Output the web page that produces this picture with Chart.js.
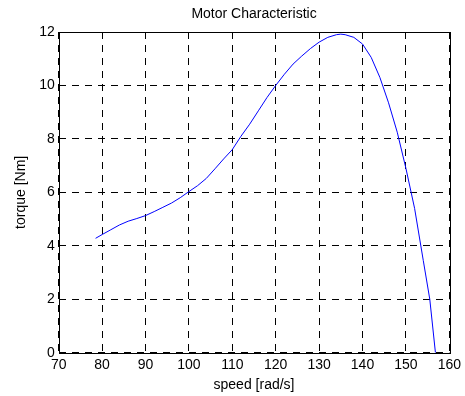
<!DOCTYPE html>
<html>
<head>
<meta charset="utf-8">
<script src="https://cdn.jsdelivr.net/npm/chart.js@4"></script>
<style>
  html, body { margin: 0; padding: 0; background: #fff; }
  canvas { display: block; }
</style>
</head>
<body>
<canvas id="motorChart" width="465" height="396"></canvas>
<script>
// Motor torque vs speed
const speed = [78.5, 80, 82, 84, 86, 88, 90, 92, 94, 96, 98, 100, 102, 104, 106, 108, 110,
    112, 114, 116, 118, 120, 122, 124, 126, 128, 130, 132, 134, 135, 136, 138, 140,
    142, 144, 146, 148, 150, 152, 154, 155.5, 156.8];
const torque = [4.28, 4.42, 4.6, 4.78, 4.92, 5.02, 5.13, 5.28, 5.44, 5.6, 5.8, 6.03, 6.25, 6.52, 6.88, 7.25, 7.6,
    8.1, 8.55, 9.05, 9.55, 10.0, 10.42, 10.8, 11.1, 11.38, 11.62, 11.8, 11.9, 11.92, 11.9, 11.8, 11.55,
    11.05, 10.3, 9.35, 8.25, 6.9, 5.4, 3.45, 2.0, 0];
const xTicks = [70, 80, 90, 100, 110, 120, 130, 140, 150, 160];
const yTicks = [0, 2, 4, 6, 8, 10, 12];

const font = { family: 'Liberation Sans, Arial, sans-serif', size: 14 };

// Box around the plot area
const frame = {
    id: 'frame',
    afterDraw(chart) {
        const { ctx, chartArea: a } = chart;
        ctx.save();
        ctx.strokeStyle = '#000';
        ctx.lineWidth = 1;
        ctx.strokeRect(Math.round(a.left) + 0.5, Math.round(a.top) + 0.5,
            Math.round(a.right - a.left), Math.round(a.bottom - a.top));
        ctx.restore();
    }
};

new Chart(document.getElementById('motorChart'), {
    type: 'line',
    data: {
        datasets: [{
            data: speed.map((s, i) => ({ x: s, y: torque[i] })),
            borderColor: '#0000ff',
            borderWidth: 1,
            pointRadius: 0,
            tension: 0,
            fill: false
        }]
    },
    options: {
        responsive: false,
        animation: false,
        layout: { padding: { left: 0, right: 13.3, top: 0, bottom: 0 } },
        plugins: {
            legend: { display: false },
            tooltip: { enabled: false },
            title: {
                display: true,
                text: 'Motor Characteristic',
                color: '#000',
                font: { ...font, weight: 'normal' },
                fullSize: false,
                padding: { top: 5.6, bottom: 9.6 }
            }
        },
        scales: {
            x: {
                type: 'linear',
                min: 70,
                max: 160,
                afterBuildTicks: s => { s.ticks = xTicks.map(v => ({ value: v })); },
                afterFit: s => { s.height = 43.3; },
                ticks: { color: '#000', font, padding: 4, maxRotation: 0 },
                grid: { color: '#000', lineWidth: 1, drawTicks: false },
                border: { display: false, dash: [7, 6] },
                title: { display: true, text: 'speed [rad/s]', color: '#000', font, padding: { top: 0, bottom: 2.6 } }
            },
            y: {
                type: 'linear',
                min: 0,
                max: 12,
                afterBuildTicks: s => { s.ticks = yTicks.map(v => ({ value: v })); },
                afterFit: s => { s.width = 58.7; },
                ticks: { color: '#000', font, padding: 4 },
                grid: { color: '#000', lineWidth: 1, drawTicks: false },
                border: { display: false, dash: [7, 6] },
                title: { display: true, text: 'torque [Nm]', color: '#000', font, padding: { top: 12.6, bottom: 0 } }
            }
        }
    },
    plugins: [frame]
});
</script>
</body>
</html>
